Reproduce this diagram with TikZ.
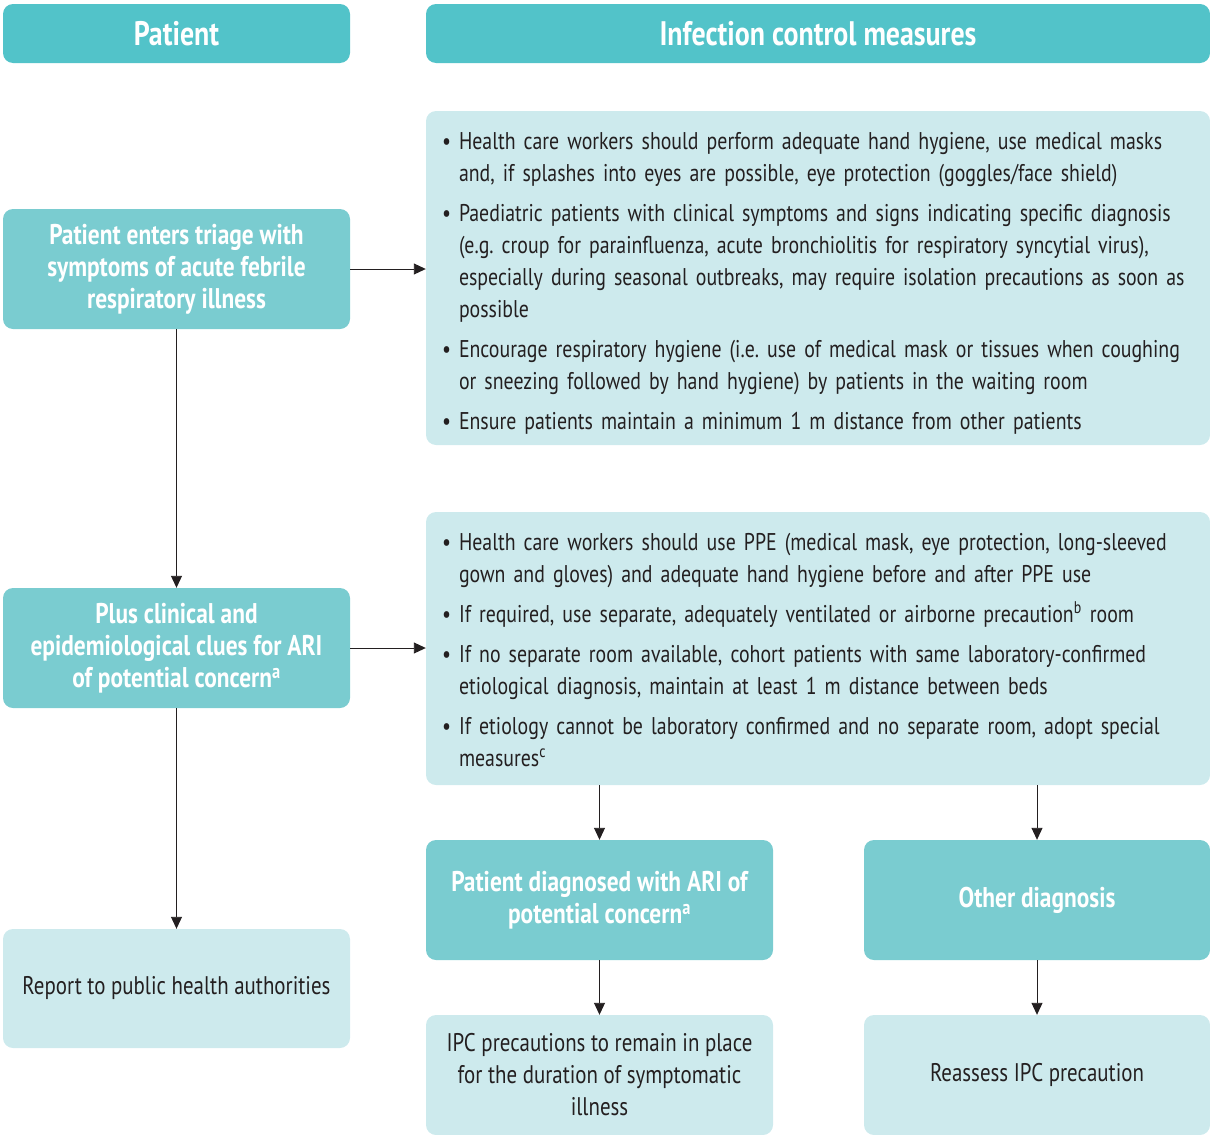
\documentclass[tikz,border=0pt]{standalone}
\usepackage{fontspec}
\setmainfont{PT Sans}[FakeStretch=0.82]
\usepackage{enumitem}
\usetikzlibrary{arrows.meta}
\definecolor{hdr}{HTML}{52C3C9}
\definecolor{mid}{HTML}{7ACCD0}
\definecolor{lite}{HTML}{CDEAED}
\definecolor{ink}{HTML}{231F20}
\begin{document}
\begin{tikzpicture}[x=1pt,y=-1pt,
  hdrbox/.style={fill=hdr, rounded corners=10pt, text=white, inner sep=0pt,
    font=\bfseries\fontsize{34}{38}\selectfont},
  midbox/.style={fill=mid, rounded corners=10pt, text=white, inner sep=0pt, align=center,
    minimum width=347pt, minimum height=120pt, font=\bfseries\fontsize{28.5}{32}\selectfont},
  litebox/.style={fill=lite, rounded corners=10pt, text=ink, inner sep=0pt, align=center,
    minimum width=347pt, minimum height=120pt, font=\fontsize{25.5}{32}\selectfont},
  listbox/.style={fill=lite, rounded corners=10pt, text=ink, inner xsep=17pt, inner ysep=0pt,
    minimum width=784pt, text width=750pt, font=\fontsize{24.2}{32}\selectfont},
  arr/.style={draw=ink, line width=0.9pt, -{Triangle[length=12pt,width=11pt]}}
]
\useasboundingbox (0,0) rectangle (1210,1135);
\setlist[itemize]{label=\textbullet, leftmargin=16pt, labelsep=8pt, topsep=0pt, partopsep=0pt, parsep=0pt, itemsep=8pt}

\node[hdrbox, minimum width=347pt, minimum height=59pt] (hp) at (176.5,33.5) {Patient};
\node[hdrbox, minimum width=784pt, minimum height=59pt] (hi) at (818,33.5) {Infection control measures};

\node[listbox, minimum height=334pt] (b1) at (818,278) {\raggedright
\begin{itemize}
\item Health care workers should perform adequate hand hygiene, use medical masks\\
and, if splashes into eyes are possible, eye protection (goggles/face shield)
\item Paediatric patients with clinical symptoms and signs indicating specific diagnosis\\
(e.g.\ croup for parainfluenza, acute bronchiolitis for respiratory syncytial virus),\\
especially during seasonal outbreaks, may require isolation precautions as soon as\\
possible
\item Encourage respiratory hygiene (i.e.\ use of medical mask or tissues when coughing\\
or sneezing followed by hand hygiene) by patients in the waiting room
\item Ensure patients maintain a minimum 1 m distance from other patients
\end{itemize}\vspace{4pt}};

\node[listbox, minimum height=273pt] (b2) at (818,648.5) {\raggedright
\begin{itemize}
\item Health care workers should use PPE (medical mask, eye protection, long-sleeved\\
gown and gloves) and adequate hand hygiene before and after PPE use
\item If required, use separate, adequately ventilated or airborne precaution\textsuperscript{b} room
\item If no separate room available, cohort patients with same laboratory-confirmed\\
etiological diagnosis, maintain at least 1 m distance between beds
\item If etiology cannot be laboratory confirmed and no separate room, adopt special\\
measures\textsuperscript{c}
\end{itemize}\vspace{11pt}};

\node[midbox] (tri) at (176.5,269) {Patient enters triage with\\symptoms of acute febrile\\respiratory illness};
\node[midbox] (plus) at (176.5,648) {Plus clinical and\\epidemiological clues for ARI\\of potential concern\textsuperscript{a}};
\node[litebox, minimum height=119pt] (rep) at (176.5,988.5) {Report to public health authorities};
\node[midbox] (diag) at (599.5,900) {Patient diagnosed with ARI of\\potential concern\textsuperscript{a}};
\node[midbox, minimum width=346pt] (oth) at (1037,900) {Other diagnosis};
\node[litebox] (ipc) at (599.5,1075) {IPC precautions to remain in place\\for the duration of symptomatic\\illness};
\node[litebox, minimum width=346pt] (rea) at (1037,1075) {Reassess IPC precaution};

\draw[arr] (tri.east) -- (b1.west |- tri.east);
\draw[arr] (tri.south) -- (plus.north);
\draw[arr] (plus.east) -- (b2.west |- plus.east);
\draw[arr] (plus.south) -- (rep.north);
\draw[arr] (b2.south -| diag.north) -- (diag.north);
\draw[arr] (b2.south -| oth.north) -- (oth.north);
\draw[arr] (diag.south) -- (ipc.north);
\draw[arr] (oth.south) -- (rea.north);
\end{tikzpicture}
\end{document}
